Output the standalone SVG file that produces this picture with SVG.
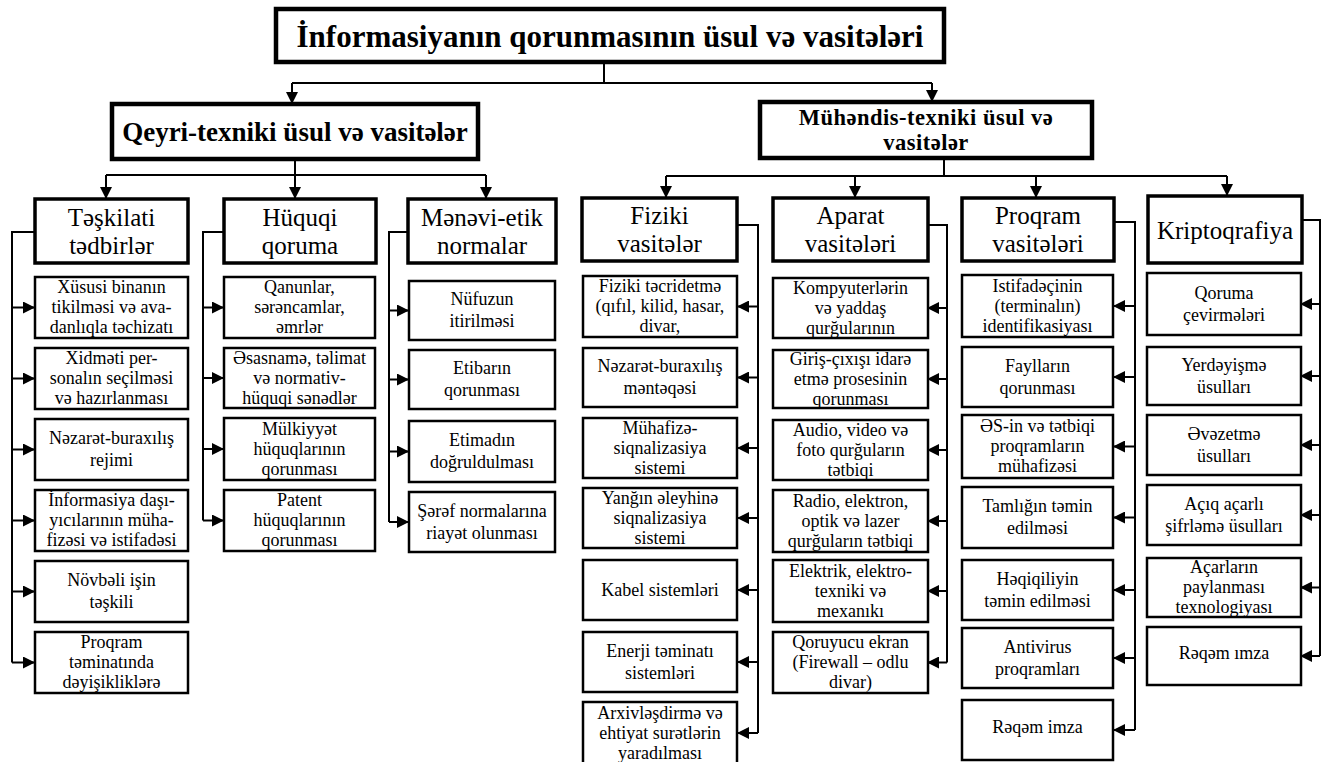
<svg xmlns="http://www.w3.org/2000/svg" width="1330" height="762" viewBox="0 0 1330 762">
<style>
text{font-family:"Liberation Serif","DejaVu Serif","Times New Roman",serif;fill:#000;text-anchor:middle}
.c rect{fill:#fff;stroke:#000;stroke-width:2.5}
.c text{font-size:18px}
.l3 rect{fill:#fff;stroke:#000;stroke-width:3.5}
.l3 text{font-size:25px}
.l2 rect{fill:#fff;stroke:#000;stroke-width:4.5}
.l2 text{font-weight:bold}
#connectors path{fill:none;stroke:#000;stroke-width:2}
#connectors .a{marker-end:url(#ah)}
</style>
<defs>
<marker id="ah" markerWidth="12" markerHeight="12" refX="11" refY="6" orient="auto" markerUnits="userSpaceOnUse"><path d="M0,0 L12,6 L0,12 z" fill="#000"/></marker>
</defs>
<rect width="1330" height="762" fill="#fff"/>

<g id="connectors">
<path d="M604,62 V83 M292,83 H932"/>
<path class="a" d="M292,83 V103"/>
<path class="a" d="M932,83 V101"/>
<path d="M295,159 V175 M106,175 H486"/>
<path class="a" d="M106,175 V198"/>
<path class="a" d="M295,175 V198"/>
<path class="a" d="M486,175 V198"/>
<path d="M944,158 V176 M666,176 H1227"/>
<path class="a" d="M666,176 V197"/>
<path class="a" d="M855,176 V197"/>
<path class="a" d="M1036,176 V197"/>
<path class="a" d="M1227,176 V195"/>
<path d="M35,232 H12 V662.5"/>
<path class="a" d="M12,307.5 H34"/><path class="a" d="M12,378.5 H34"/><path class="a" d="M12,449.5 H34"/><path class="a" d="M12,520.5 H34"/><path class="a" d="M12,591.5 H34"/><path class="a" d="M12,662.5 H34"/>
<path d="M224,232 H203 V520.5"/>
<path class="a" d="M203,307.5 H223"/><path class="a" d="M203,378 H223"/><path class="a" d="M203,449 H223"/><path class="a" d="M203,520.5 H223"/>
<path d="M408,232 H389 V522"/>
<path class="a" d="M389,310.5 H408"/><path class="a" d="M389,379.5 H408"/><path class="a" d="M389,451.5 H408"/><path class="a" d="M389,522 H408"/>
<path d="M737,225 H758 V733"/>
<path class="a" d="M758,306.5 H738"/><path class="a" d="M758,377.5 H738"/><path class="a" d="M758,448 H738"/><path class="a" d="M758,518 H738"/><path class="a" d="M758,590 H738"/><path class="a" d="M758,662 H738"/><path class="a" d="M758,733 H738"/>
<path d="M928,225 H947 V662.5"/>
<path class="a" d="M947,308 H928"/><path class="a" d="M947,379 H928"/><path class="a" d="M947,450 H928"/><path class="a" d="M947,521 H928"/><path class="a" d="M947,591 H928"/><path class="a" d="M947,662.5 H928"/>
<path d="M1114,222 H1135 V730"/>
<path class="a" d="M1135,306 H1114"/><path class="a" d="M1135,377 H1114"/><path class="a" d="M1135,446.5 H1114"/><path class="a" d="M1135,517.5 H1114"/><path class="a" d="M1135,590 H1114"/><path class="a" d="M1135,658 H1114"/><path class="a" d="M1135,730 H1114"/>
<path d="M1302,220 H1320 V656"/>
<path class="a" d="M1320,304 H1301"/><path class="a" d="M1320,376 H1301"/><path class="a" d="M1320,445 H1301"/><path class="a" d="M1320,515 H1301"/><path class="a" d="M1320,587.5 H1301"/><path class="a" d="M1320,656 H1301"/>
</g>

<g id="title" class="l2"><rect x="276" y="9" width="668" height="53"/><text x="610" y="46.5" font-size="31">İnformasiyanın qorunmasının üsul və vasitələri</text></g>
<g id="qeyri" class="l2"><rect x="112" y="104" width="366" height="55"/><text x="295" y="141" font-size="27">Qeyri-texniki üsul və vasitələr</text></g>
<g id="muhendis" class="l2"><rect x="760" y="102" width="332" height="56"/><text x="926" y="125" font-size="22.5" letter-spacing="0.5">Mühəndis-texniki üsul və<tspan x="926" dy="25">vasitələr</tspan></text></g>

<g id="teskilati" class="l3"><rect x="35" y="199" width="153" height="64"/><text x="111.5" y="225.5">Təşkilati<tspan x="111.5" dy="28">tədbirlər</tspan></text></g>
<g id="huquqi" class="l3"><rect x="224" y="199" width="152" height="64"/><text x="300" y="225.5">Hüquqi<tspan x="300" dy="28">qoruma</tspan></text></g>
<g id="menevi" class="l3"><rect x="408" y="199" width="148" height="64"/><text x="482" y="225.5">Mənəvi-etik<tspan x="482" dy="28">normalar</tspan></text></g>
<g id="fiziki" class="l3"><rect x="582" y="198" width="155" height="63"/><text x="659.5" y="224">Fiziki<tspan x="659.5" dy="28">vasitələr</tspan></text></g>
<g id="aparat" class="l3"><rect x="773" y="198" width="155" height="63"/><text x="850.5" y="224">Aparat<tspan x="850.5" dy="28">vasitələri</tspan></text></g>
<g id="proqram" class="l3"><rect x="962" y="198" width="152" height="63"/><text x="1038" y="224">Proqram<tspan x="1038" dy="28">vasitələri</tspan></text></g>
<g id="kripto" class="l3"><rect x="1148" y="196" width="154" height="67"/><text x="1225" y="238.5">Kriptoqrafiya</text></g>

<g id="t1" class="c"><rect x="35" y="277" width="153" height="61"/><text x="111.5" y="293">Xüsusi binanın<tspan x="111.5" dy="20">tikilməsi və ava-</tspan><tspan x="111.5" dy="20">danlıqla təchizatı</tspan></text></g>
<g id="t2" class="c"><rect x="35" y="348" width="153" height="61"/><text x="111.5" y="364">Xidməti per-<tspan x="111.5" dy="20">sonalın seçilməsi</tspan><tspan x="111.5" dy="20">və hazırlanması</tspan></text></g>
<g id="t3" class="c"><rect x="35" y="419" width="153" height="61"/><text x="111.5" y="444">Nəzarət-buraxılış<tspan x="111.5" dy="22">rejimi</tspan></text></g>
<g id="t4" class="c"><rect x="35" y="490" width="153" height="61"/><text x="111.5" y="506">İnformasiya daşı-<tspan x="111.5" dy="20">yıcılarının müha-</tspan><tspan x="111.5" dy="20">fizəsi və istifadəsi</tspan></text></g>
<g id="t5" class="c"><rect x="35" y="561" width="153" height="61"/><text x="111.5" y="586">Növbəli işin<tspan x="111.5" dy="22">təşkili</tspan></text></g>
<g id="t6" class="c"><rect x="35" y="632" width="153" height="61"/><text x="111.5" y="648">Proqram<tspan x="111.5" dy="20">təminatında</tspan><tspan x="111.5" dy="20">dəyişikliklərə</tspan></text></g>

<g id="h1" class="c"><rect x="224" y="277" width="151" height="61"/><text x="299.5" y="293">Qanunlar,<tspan x="299.5" dy="20">sərəncamlar,</tspan><tspan x="299.5" dy="20">əmrlər</tspan></text></g>
<g id="h2" class="c"><rect x="224" y="348" width="151" height="60"/><text x="299.5" y="363.5">Əsasnamə, təlimat<tspan x="299.5" dy="20">və normativ-</tspan><tspan x="299.5" dy="20">hüquqi sənədlər</tspan></text></g>
<g id="h3" class="c"><rect x="224" y="418" width="151" height="62"/><text x="299.5" y="434.5">Mülkiyyət<tspan x="299.5" dy="20">hüquqlarının</tspan><tspan x="299.5" dy="20">qorunması</tspan></text></g>
<g id="h4" class="c"><rect x="224" y="490" width="151" height="61"/><text x="299.5" y="506">Patent<tspan x="299.5" dy="20">hüquqlarının</tspan><tspan x="299.5" dy="20">qorunması</tspan></text></g>

<g id="m1" class="c"><rect x="409" y="281" width="146" height="59"/><text x="482" y="305">Nüfuzun<tspan x="482" dy="22">itirilməsi</tspan></text></g>
<g id="m2" class="c"><rect x="409" y="350" width="146" height="59"/><text x="482" y="374">Etibarın<tspan x="482" dy="22">qorunması</tspan></text></g>
<g id="m3" class="c"><rect x="409" y="421" width="146" height="61"/><text x="482" y="446">Etimadın<tspan x="482" dy="22">doğruldulması</tspan></text></g>
<g id="m4" class="c"><rect x="409" y="492" width="146" height="60"/><text x="482" y="516.5">Şərəf normalarına<tspan x="482" dy="22">riayət olunması</tspan></text></g>

<g id="f1" class="c"><rect x="583" y="276" width="154" height="61"/><text x="660" y="292">Fiziki təcridetmə<tspan x="660" dy="20">(qıfıl, kilid, hasar,</tspan><tspan x="660" dy="20">divar,</tspan></text></g>
<g id="f2" class="c"><rect x="583" y="348" width="154" height="59"/><text x="660" y="372">Nəzarət-buraxılış<tspan x="660" dy="22">məntəqəsi</tspan></text></g>
<g id="f3" class="c"><rect x="583" y="418" width="154" height="60"/><text x="660" y="433.5">Mühafizə-<tspan x="660" dy="20">siqnalizasiya</tspan><tspan x="660" dy="20">sistemi</tspan></text></g>
<g id="f4" class="c"><rect x="583" y="488" width="154" height="60"/><text x="660" y="503.5">Yanğın əleyhinə<tspan x="660" dy="20">siqnalizasiya</tspan><tspan x="660" dy="20">sistemi</tspan></text></g>
<g id="f5" class="c"><rect x="583" y="560" width="154" height="60"/><text x="660" y="595.5">Kabel sistemləri</text></g>
<g id="f6" class="c"><rect x="583" y="632" width="154" height="60"/><text x="660" y="656.5">Enerji təminatı<tspan x="660" dy="22">sistemləri</tspan></text></g>
<g id="f7" class="c"><rect x="583" y="702" width="154" height="62"/><text x="660" y="718.5">Arxivləşdirmə və<tspan x="660" dy="20">ehtiyat surətlərin</tspan><tspan x="660" dy="20">yaradılması</tspan></text></g>

<g id="a1" class="c"><rect x="773" y="278" width="155" height="60"/><text x="850.5" y="293.5">Kompyuterlərin<tspan x="850.5" dy="20">və yaddaş</tspan><tspan x="850.5" dy="20">qurğularının</tspan></text></g>
<g id="a2" class="c"><rect x="773" y="350" width="155" height="58"/><text x="850.5" y="364.5">Giriş-çıxışı idarə<tspan x="850.5" dy="20">etmə prosesinin</tspan><tspan x="850.5" dy="20">qorunması</tspan></text></g>
<g id="a3" class="c"><rect x="773" y="420" width="155" height="60"/><text x="850.5" y="435.5">Audio, video və<tspan x="850.5" dy="20">foto qurğuların</tspan><tspan x="850.5" dy="20">tətbiqi</tspan></text></g>
<g id="a4" class="c"><rect x="773" y="490" width="155" height="62"/><text x="850.5" y="506.5">Radio, elektron,<tspan x="850.5" dy="20">optik və lazer</tspan><tspan x="850.5" dy="20">qurğuların tətbiqi</tspan></text></g>
<g id="a5" class="c"><rect x="773" y="560" width="155" height="62"/><text x="850.5" y="576.5">Elektrik, elektro-<tspan x="850.5" dy="20">texniki və</tspan><tspan x="850.5" dy="20">mexanıkı</tspan></text></g>
<g id="a6" class="c"><rect x="773" y="632" width="155" height="61"/><text x="850.5" y="648">Qoruyucu ekran<tspan x="850.5" dy="20">(Firewall – odlu</tspan><tspan x="850.5" dy="20">divar)</tspan></text></g>

<g id="p1" class="c"><rect x="962" y="275" width="151" height="62"/><text x="1037.5" y="291.5">Istifadəçinin<tspan x="1037.5" dy="20">(terminalın)</tspan><tspan x="1037.5" dy="20">identifikasiyası</tspan></text></g>
<g id="p2" class="c"><rect x="962" y="347" width="151" height="60"/><text x="1037.5" y="371.5">Faylların<tspan x="1037.5" dy="22">qorunması</tspan></text></g>
<g id="p3" class="c"><rect x="962" y="415" width="151" height="63"/><text x="1037.5" y="432">ƏS-in və tətbiqi<tspan x="1037.5" dy="20">proqramların</tspan><tspan x="1037.5" dy="20">mühafizəsi</tspan></text></g>
<g id="p4" class="c"><rect x="962" y="487" width="151" height="61"/><text x="1037.5" y="512">Tamlığın təmin<tspan x="1037.5" dy="22">edilməsi</tspan></text></g>
<g id="p5" class="c"><rect x="962" y="560" width="151" height="60"/><text x="1037.5" y="584.5">Həqiqiliyin<tspan x="1037.5" dy="22">təmin edilməsi</tspan></text></g>
<g id="p6" class="c"><rect x="962" y="628" width="151" height="60"/><text x="1037.5" y="652.5">Antivirus<tspan x="1037.5" dy="22">proqramları</tspan></text></g>
<g id="p7" class="c"><rect x="962" y="700" width="151" height="60"/><text x="1037.5" y="733">Rəqəm imza</text></g>

<g id="k1" class="c"><rect x="1147" y="273" width="154" height="62"/><text x="1224" y="298.5">Qoruma<tspan x="1224" dy="22">çevirmələri</tspan></text></g>
<g id="k2" class="c"><rect x="1147" y="347" width="154" height="58"/><text x="1224" y="370.5">Yerdəyişmə<tspan x="1224" dy="22">üsulları</tspan></text></g>
<g id="k3" class="c"><rect x="1147" y="415" width="154" height="60"/><text x="1224" y="439.5">Əvəzetmə<tspan x="1224" dy="22">üsulları</tspan></text></g>
<g id="k4" class="c"><rect x="1147" y="485" width="154" height="60"/><text x="1224" y="509.5">Açıq açarlı<tspan x="1224" dy="22">şifrləmə üsulları</tspan></text></g>
<g id="k5" class="c"><rect x="1147" y="558" width="154" height="59"/><text x="1224" y="573">Açarların<tspan x="1224" dy="20">paylanması</tspan><tspan x="1224" dy="20">texnologiyası</tspan></text></g>
<g id="k6" class="c"><rect x="1147" y="627" width="154" height="58"/><text x="1224" y="659">Rəqəm ımza</text></g>
</svg>
